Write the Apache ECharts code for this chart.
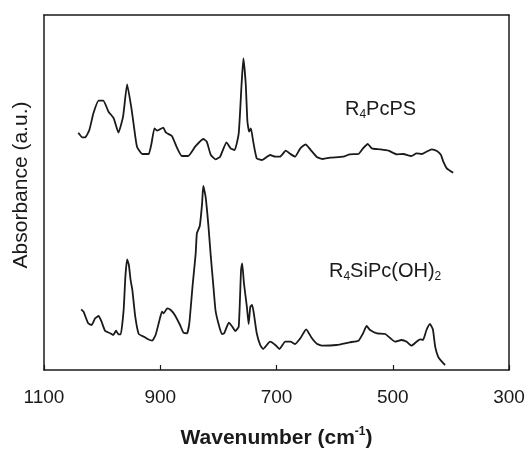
<!DOCTYPE html>
<html>
<head>
<meta charset="utf-8">
<script src="https://cdn.jsdelivr.net/npm/echarts@6/dist/echarts.min.js"></script>
<style>html,body{margin:0;padding:0;background:#fff}#c{width:527px;height:449px}</style>
</head>
<body>
<div id="c"></div>
<script>
// Wavenumber (cm-1) and absorbance (arbitrary units)
const pcpsWave = [1041,1034,1029,1022,1015,1006,998,989,980,972,964,957,950,946,940,931,920,915,910,905,895,890,880,872,863,852,840,826,820,813,805,797,786,779,772,765,760,757,753,750,747,744,740,734,725,711,702,694,684,676,668,659,650,642,630,620,608,585,574,559,551,543,536,522,507,493,482,468,459,450,442,433,424,417,413,407,396];
const pcpsAbs = [236.3,231.7,231.7,239,255.7,268.3,268.3,257.3,250.7,236.3,252.3,284.7,262.3,245.7,222.3,215,215,225.7,240.7,238.3,241.3,236.3,233,222.3,213,213,222.3,230,227.3,214,209.7,212.3,226.7,220.7,219,235.7,285.7,310.7,285.7,247.3,237.3,240.7,227.3,210.7,209,214,212.3,212.3,218.3,215,212.3,220.7,224.7,219.7,211.7,210,211.3,212.3,214.7,215,220.7,225,220.7,219.7,218.3,214.7,215,213,215.7,215,217.3,219.7,218,214,207.3,200.7,196.3];
const sipcWave = [1036,1032,1024,1018,1012,1006,1001,995,986,981,976,972,968,963,960,957,954,951,948,943,937,928,921,914,908,902,897,894,888,882,875,866,860,854,850,844,839,837,832,828,826,822,817,813,809,805,800,794,790,782,776,771,765,761,759,756,751,748,745,742,739,734,728,723,711,702,695,685,676,668,659,649,639,630,620,597,574,559,551,545,539,527,513,504,496,485,476,468,459,453,448,442,436,431,427,422,417,410];
const sipcAbs = [59.7,57.3,45.7,44,50.7,53,47.3,38.3,35.7,34,38.3,34.7,34.7,59,92.3,109.7,104,89,79,52.3,35,32.3,29.7,28.3,34,47.3,57.3,55.7,60.7,59,54,44,36.3,35.7,45.7,85.7,115.7,135.7,143,165.7,183,172.3,142.3,112.3,85.7,59,45.7,35,35.7,46.3,42.3,38,42.3,99,105.7,85.7,62.3,45,62.3,64,55.7,35.7,24,20,27.3,24,20,27.3,27.3,25,30.7,39.7,30.7,25,23.3,24,26.7,28.3,35.7,43,39,35.7,35,30.7,27.3,29,27.3,23.3,27.3,29.7,29,39,45,39.7,22.3,12.3,8.3,4];
const xTicks = [1100, 900, 700, 500, 300];

function pairs(xs, ys) { return xs.map((x, i) => [x, ys[i]]); }

const chart = echarts.init(document.getElementById('c'), null, {renderer: 'canvas'});
const ink = '#1a1a1a';
const font = 'Liberation Sans, Arial, Helvetica, sans-serif';
const frame = {show: true, onZero: false, lineStyle: {color: ink, width: 1.5}};
chart.setOption({
  backgroundColor: '#fff',
  animation: false,
  grid: {left: 44, right: 18, top: 15, bottom: 79, containLabel: false, outerBoundsMode: 'none'},
  xAxis: [{
    type: 'value', min: xTicks[xTicks.length - 1], max: xTicks[0], interval: 200, inverse: true,
    position: 'bottom',
    axisLine: frame,
    axisTick: {show: true, inside: true, length: 5, lineStyle: {color: ink, width: 1.2}},
    axisLabel: {show: true, margin: 18, color: ink, fontSize: 19, fontFamily: font,
      formatter: v => String(v)},
    splitLine: {show: false},
    name: '{b|Wavenumber (cm}{s|-1}{b|)}',
    nameLocation: 'middle', nameGap: 56,
    nameTextStyle: {
      rich: {
        b: {fontSize: 21, fontWeight: 'bold', color: ink, fontFamily: font, lineHeight: 25},
        s: {fontSize: 12, fontWeight: 'bold', color: ink, fontFamily: font, lineHeight: 12, verticalAlign: 'top'}
      }
    }
  }, {
    type: 'value', min: 300, max: 1100, inverse: true, position: 'top',
    axisLine: frame, axisTick: {show: false}, axisLabel: {show: false}, splitLine: {show: false}
  }],
  yAxis: [{
    type: 'value', min: -1, max: 354, position: 'left',
    axisLine: frame, axisTick: {show: false}, axisLabel: {show: false}, splitLine: {show: false},
    name: 'Absorbance (a.u.)', nameLocation: 'middle', nameGap: 12,
    nameTextStyle: {fontSize: 21, color: ink, fontFamily: font, padding: [0, 0, 0, 15]}
  }, {
    type: 'value', min: -1, max: 354, position: 'right',
    axisLine: frame, axisTick: {show: false}, axisLabel: {show: false}, splitLine: {show: false}
  }],
  series: [
    {type: 'line', name: 'R4PcPS', data: pairs(pcpsWave, pcpsAbs), showSymbol: false, smooth: 0.15,
     lineStyle: {color: ink, width: 1.8}},
    {type: 'line', name: 'R4SiPc(OH)2', data: pairs(sipcWave, sipcAbs), showSymbol: false, smooth: 0.15,
     lineStyle: {color: ink, width: 1.8}}
  ],
  graphic: [
    {type: 'text', left: 345, top: 99, style: {
      text: '{m|R}{s|4}{m|PcPS}', fill: ink,
      rich: {
        m: {fontSize: 20, fontFamily: font, lineHeight: 23, color: ink},
        s: {fontSize: 12, fontFamily: font, lineHeight: 12, verticalAlign: 'bottom', color: ink}
      }}},
    {type: 'text', left: 329, top: 261, style: {
      text: '{m|R}{s|4}{m|SiPc(OH)}{s|2}', fill: ink,
      rich: {
        m: {fontSize: 20, fontFamily: font, lineHeight: 23, color: ink},
        s: {fontSize: 12, fontFamily: font, lineHeight: 12, verticalAlign: 'bottom', color: ink}
      }}}
  ]
});
</script>
</body>
</html>
